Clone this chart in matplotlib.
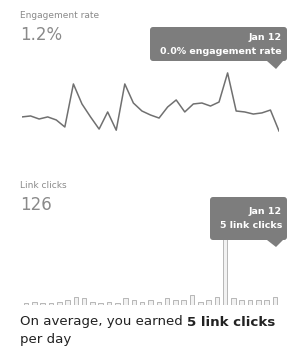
import matplotlib.pyplot as plt
from matplotlib.patches import FancyBboxPatch, Polygon

# daily values (last day = Jan 12)
engagement_rate = [0.88, 0.94, 0.75, 0.88, 0.69, 0.25, 2.94, 1.69, 0.88, 0.12,
                   1.19, 0.05, 2.94, 1.75, 1.25, 1.00, 0.81, 1.50, 1.94, 1.19,
                   1.69, 1.75, 1.56, 1.81, 3.63, 1.25, 1.19, 1.06, 1.13, 1.31, 0.0]
link_clicks = [1, 2, 1, 1, 2, 3, 5, 4, 2, 1,
               2, 1, 4, 3, 2, 3, 2, 4, 3, 3,
               6, 2, 3, 5, 40, 4, 3, 3, 3, 3, 5]

rate_title, rate_total = "Engagement rate", "1.2%"
clicks_title, clicks_total = "Link clicks", "126"
tip_date = "Jan 12"
tip_rate = "0.0% engagement rate"
tip_clicks = "5 link clicks"
avg_clicks = "5 link clicks"

W, H = 299, 360
fig = plt.figure(figsize=(W / 100, H / 100), dpi=100)

days = list(range(len(engagement_rate)))

# --- engagement line ---
ax1 = fig.add_axes([22 / W, 1 - 140 / H, 257 / W, 75 / H])
ax1.plot(days, engagement_rate, color='#707070', linewidth=1.1)
ax1.set_xlim(0, len(days) - 1)
ax1.set_ylim(-9 / 16, 66 / 16)
ax1.axis('off')

# --- link click bars ---
ax2 = fig.add_axes([22 / W, 1 - 305 / H, 257 / W, 75 / H])
ax2.bar(days, link_clicks, width=0.55, color='#f2f2f2', edgecolor='#acacac', linewidth=0.6)
ax2.set_xlim(-0.5, len(days) - 0.5)
ax2.set_ylim(0, 75 / 1.7)
ax2.axis('off')

# overlay in pixel coords for text and tooltips
ov = fig.add_axes([0, 0, 1, 1], zorder=5)
ov.set_xlim(0, W)
ov.set_ylim(H, 0)
ov.axis('off')

ov.text(20, 15, rate_title, fontsize=6.5, color='#8a8a8a', va='center')
ov.text(20, 35, rate_total, fontsize=12, color='#8a8a8a', va='center')
ov.text(20, 186, clicks_title, fontsize=6.5, color='#8a8a8a', va='center')
ov.text(20, 205, clicks_total, fontsize=12, color='#8a8a8a', va='center')


def tooltip(x0, y0, x1, y1, tip, line1, line2):
    ov.add_patch(FancyBboxPatch((x0, y0), x1 - x0, y1 - y0,
                                boxstyle="round,pad=0,rounding_size=3",
                                facecolor='#7d7d7d', edgecolor='none'))
    ov.add_patch(Polygon([(tip[0] - 9, y1), (tip[0] + 7, y1), tip],
                         closed=True, facecolor='#7d7d7d', edgecolor='none'))
    mid = (y0 + y1) / 2
    ov.text(x1 - 5, mid - 7, line1, fontsize=6.8, color='white',
            ha='right', va='center', fontweight='bold')
    ov.text(x1 - 5, mid + 7, line2, fontsize=6.8, color='white',
            ha='right', va='center', fontweight='bold')


tooltip(150, 27, 287, 61, (276, 69), tip_date, tip_rate)
tooltip(210, 197, 287, 240, (276, 247), tip_date, tip_clicks)

t1 = ov.text(20, 322, "On average, you earned ", fontsize=9.6, color='#222222', va='center')
ov.annotate(avg_clicks, xy=(1, 0), xycoords=t1, va='bottom', fontsize=9.6,
            color='#222222', fontweight='bold')
ov.text(20, 339, "per day", fontsize=9.6, color='#222222', va='center')

fig.savefig("out.png", dpi=100, facecolor='white')
